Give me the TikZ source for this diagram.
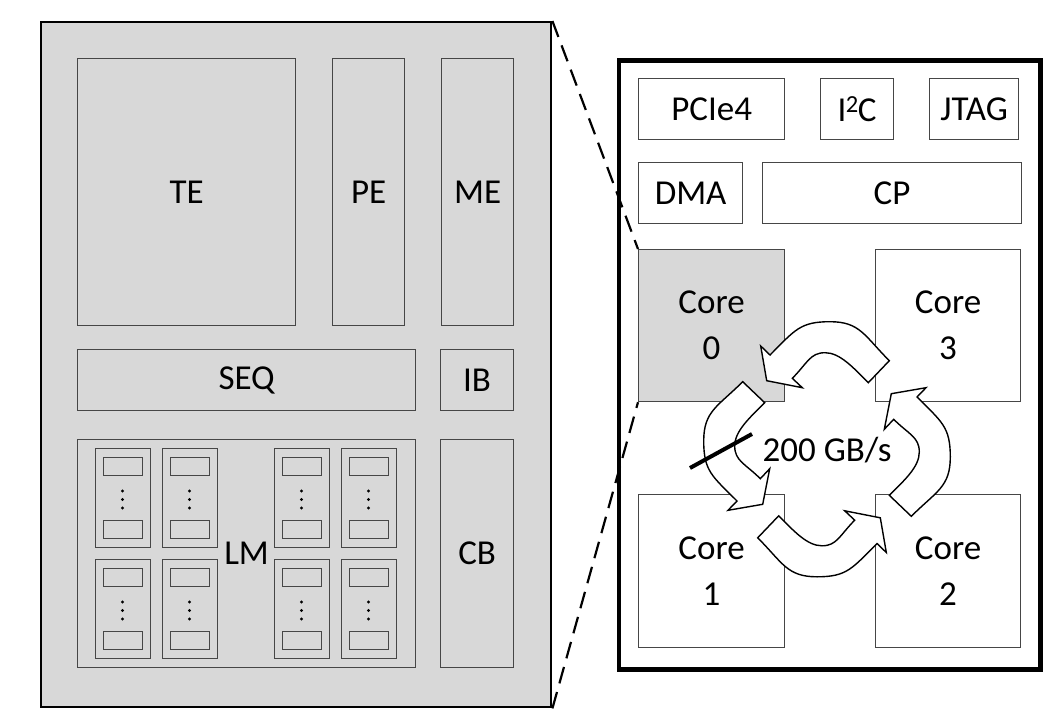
\documentclass[tikz,border=0pt]{standalone}
\usepackage{fontspec}
\setmainfont{Carlito}
\definecolor{chipgray}{RGB}{216,216,216}
\definecolor{boxline}{RGB}{70,70,70}
\begin{document}
\begin{tikzpicture}[x=1pt,y=-1pt,
  lbl/.style={font=\fontsize{35}{46}\selectfont, align=center},
  blk/.style={draw=boxline, line width=1.2pt, inner sep=0pt, anchor=north west, lbl},
  bank/.style={draw=boxline, line width=1.2pt, inner sep=0pt, anchor=north west, minimum width=55pt, minimum height=99pt},
  cell/.style={draw=boxline, line width=1.1pt, inner sep=0pt, anchor=north west, minimum width=39pt, minimum height=18pt},
  ringarrow/.style={draw=black, fill=white, line width=1.4pt, line join=miter},
  zoomline/.style={draw=black, line width=2.2pt, dash pattern=on 17pt off 9pt}
]
\useasboundingbox (0,0) rectangle (1062,727);

% left: enlarged core
\node[draw=black, line width=2.4pt, fill=chipgray, inner sep=0pt, anchor=north west,
      minimum width=510pt, minimum height=685pt] (chip) at (40,21) {};
\node[blk, minimum width=218pt, minimum height=267pt] (te) at (77,58) {TE};
\node[blk, minimum width=72pt, minimum height=267pt] (pe) at (332,58) {PE};
\node[blk, minimum width=72pt, minimum height=267pt] (me) at (441,58) {ME};
\node[blk, minimum width=338pt, minimum height=61pt] (seq) at (77,349) {SEQ};
\node[blk, minimum width=73pt, minimum height=61pt] (ib) at (440,349) {IB};
\node[blk, minimum width=338pt, minimum height=228pt] (lm) at (77,439) {LM};
\node[blk, minimum width=73pt, minimum height=228pt] (cb) at (440,439) {CB};

\foreach \bx [count=\i] in {95,162,274,341}{
  \foreach \by [count=\j] in {448,559}{
    \node[bank] (bank\i\j) at (\bx,\by) {};
    \node[cell] (cella\i\j) at (\bx+8,\by+9) {};
    \node[cell] (cellb\i\j) at (\bx+8,\by+72) {};
    \foreach \dy in {43,51.5,60}{
      \fill (\bx+27.5,\by+\dy) circle (1.7pt);
    }
  }
}

% right: chip
\node[draw=black, line width=4.5pt, fill=white, inner sep=0pt, anchor=north west,
      minimum width=421.5pt, minimum height=608.5pt] (soc) at (616.5,58.5) {};
\node[blk, minimum width=146pt, minimum height=61pt] (pcie) at (638,78) {PCIe4};
\node[blk, minimum width=73pt, minimum height=61pt] (i2c) at (820,78) {I\kern-0.5pt\textsuperscript{2}\kern-1pt C};
\node[blk, minimum width=89pt, minimum height=61pt] (jtag) at (929,78) {JTAG};
\node[blk, minimum width=104pt, minimum height=61pt] (dma) at (638,162) {DMA};
\node[blk, minimum width=259pt, minimum height=61pt] (cp) at (762,162) {CP};
\node[blk, fill=chipgray, minimum width=146pt, minimum height=152pt] (core0) at (638,249) {Core\\0};
\node[blk, minimum width=145pt, minimum height=152pt] (core3) at (875,249) {Core\\3};
\node[blk, minimum width=146pt, minimum height=153pt] (core1) at (638,494) {Core\\1};
\node[blk, minimum width=145pt, minimum height=153pt] (core2) at (875,494) {Core\\2};

% ring of curved arrows
\foreach \ang/\sx/\sy in {0/829.5/447.5, 90/829.5/441.5, 180/817.5/451, 270/824.5/456.5}{
  \begin{scope}[shift={(\sx,\sy)}, rotate=\ang]
    \path[ringarrow]
      (59.8,-86.8) .. controls (34.8,-111.8) and (30.5,-125.8) .. (0.5,-125.8)
      .. controls (-29.5,-125.8) and (-34.5,-117.5) .. (-59.5,-92.5)
      -- (-68.8,-101.5) -- (-62.8,-66.8) -- (-27.2,-59.8) -- (-37.2,-69.2)
      .. controls (-22.2,-84.2) and (-19.5,-94.8) .. (-4.5,-94.8)
      .. controls (10.5,-94.8) and (23.8,-79.8) .. (38.8,-64.8) -- cycle;
  \end{scope}
}
\node[lbl, inner sep=0pt] (bw) at (827,450) {200 GB/s};
\coordinate (slashA) at (690,468);
\coordinate (slashB) at (752,434);
\draw[line width=4pt] (slashA) -- (slashB);

% zoom lines
\draw[zoomline] (chip.north east) -- (core0.north west);
\draw[zoomline] (chip.south east) -- (core0.south west);
\end{tikzpicture}
\end{document}
